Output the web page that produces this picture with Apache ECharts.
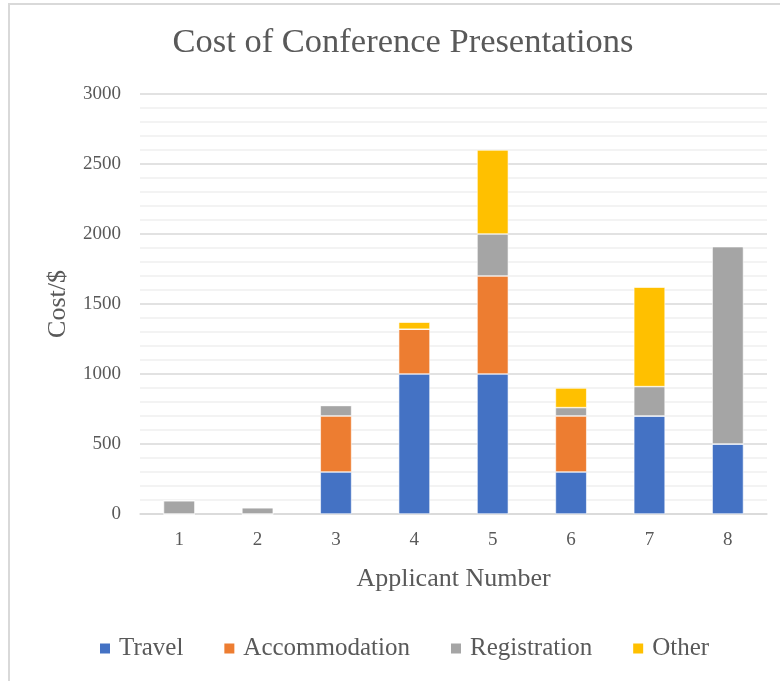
<!DOCTYPE html>
<html>
<head>
<meta charset="utf-8">
<title>Cost of Conference Presentations</title>
<script src="https://cdn.jsdelivr.net/npm/echarts@6/dist/echarts.min.js"></script>
<style>
  html, body { margin: 0; padding: 0; background: #fff; }
  #chart { width: 780px; height: 681px; }
</style>
</head>
<body>
<div id="chart"></div>
<script>
const applicants = ["1", "2", "3", "4", "5", "6", "7", "8"];
const travel = [0, 0, 300, 1000, 1000, 300, 700, 500];
const accommodation = [0, 0, 400, 320, 700, 400, 0, 0];
const registration = [95, 45, 75, 0, 300, 60, 210, 1410];
const other = [0, 0, 0, 50, 600, 140, 710, 0];

const FONT = "'Liberation Serif', 'DejaVu Serif', serif";
const TEXT = "#595959";

const chart = echarts.init(document.getElementById("chart"));

function bar(name, data, color) {
  return {
    name: name,
    type: "bar",
    stack: "cost",
    data: data,
    barCategoryGap: "60%",
    itemStyle: { color: color, borderColor: "#ffffff", borderWidth: 0.6 },
  };
}

const option = {
  animation: false,
  textStyle: { fontFamily: FONT },
  title: {
    text: "Cost of Conference Presentations",
    left: 398,
    textAlign: "center",
    top: 20,
    textStyle: { fontFamily: FONT, fontSize: 34.5, fontWeight: "normal", color: TEXT },
  },
  graphic: [
    {
      type: "rect",
      shape: { x: 9, y: 4, width: 800, height: 700 },
      style: { fill: "none", stroke: "#d9d9d9", lineWidth: 2 },
      silent: true,
    },
  ],
  legend: {
    top: 631,
    left: 93,
    itemWidth: 12,
    itemHeight: 12,
    itemGap: 39,
    icon: "rect",
    textStyle: { fontFamily: FONT, fontSize: 25, color: TEXT, padding: [0, 0, 0, 3] },
  },
  grid: { left: 140, right: 13, top: 94, bottom: 167 },
  xAxis: {
    type: "category",
    data: applicants,
    name: "Applicant Number",
    nameLocation: "middle",
    nameGap: 52,
    nameTextStyle: { fontFamily: FONT, fontSize: 26, color: TEXT },
    axisLine: { lineStyle: { color: "#d9d9d9", width: 1.5 } },
    axisTick: { show: false },
    axisLabel: { fontFamily: FONT, fontSize: 19, color: TEXT, margin: 17 },
  },
  yAxis: {
    type: "value",
    min: 0,
    max: 3000,
    interval: 500,
    name: "Cost/$",
    nameLocation: "middle",
    nameGap: 69,
    nameTextStyle: { fontFamily: FONT, fontSize: 26, color: TEXT },
    axisLine: { show: false },
    axisTick: { show: false },
    axisLabel: {
      fontFamily: FONT,
      fontSize: 19,
      color: TEXT,
      margin: 19,
      formatter: (v) => String(v),
    },
    splitLine: { lineStyle: { color: "#d9d9d9", width: 1.5 } },
    minorTick: { show: false, splitNumber: 5 },
    minorSplitLine: { show: true, lineStyle: { color: "#f0f0f0", width: 1.5 } },
  },
  series: [
    bar("Travel", travel, "#4472C4"),
    bar("Accommodation", accommodation, "#ED7D31"),
    bar("Registration", registration, "#A5A5A5"),
    bar("Other", other, "#FFC000"),
  ],
};

chart.setOption(option);
</script>
</body>
</html>
